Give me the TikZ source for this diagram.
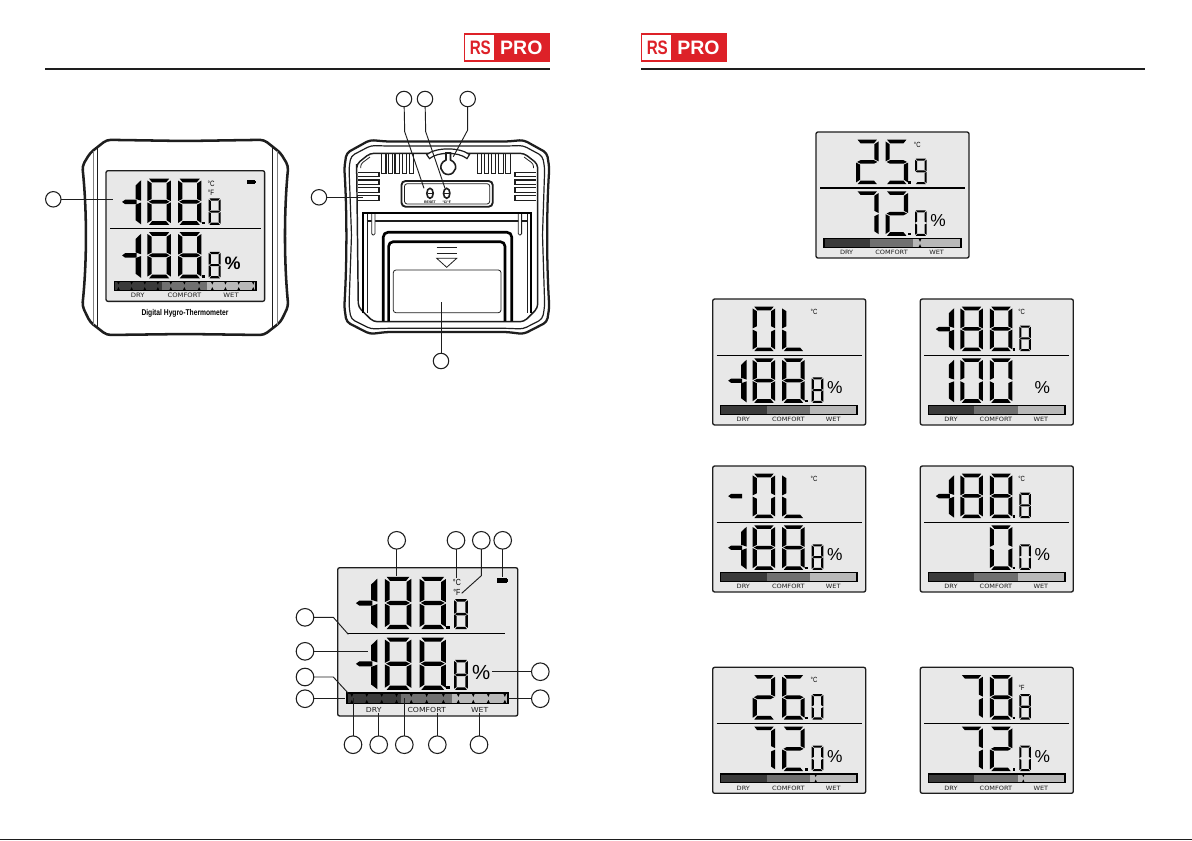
\documentclass[tikz,border=0pt]{standalone}
\usepackage{fontspec}
\setmainfont{Liberation Sans}
\newfontfamily\lcdfont{DejaVu Sans}
\usetikzlibrary{positioning}
\definecolor{rsred}{HTML}{DD2128}
\definecolor{lcdgrey}{HTML}{E8E8E8}
\definecolor{zonedry}{HTML}{3A3A3A}
\definecolor{zonecomfort}{HTML}{707070}
\definecolor{zonewet}{HTML}{B8B8B8}
\definecolor{ink}{HTML}{1E1E1E}

% segments of one digit, in a unit box
\newcommand{\lcdparta}{\fill[lcdink] (.07,0) -- (.93,0) -- (.8,.08) -- (.2,.08) -- cycle;}
\newcommand{\lcdpartb}{\fill[lcdink] (1,.04) -- (.82,.1) -- (.82,.44) -- (1,.485) -- cycle;}
\newcommand{\lcdpartc}{\fill[lcdink] (1,.515) -- (.82,.56) -- (.82,.9) -- (1,.96) -- cycle;}
\newcommand{\lcdpartd}{\fill[lcdink] (.07,1) -- (.93,1) -- (.8,.92) -- (.2,.92) -- cycle;}
\newcommand{\lcdparte}{\fill[lcdink] (0,.515) -- (.18,.56) -- (.18,.9) -- (0,.96) -- cycle;}
\newcommand{\lcdpartf}{\fill[lcdink] (0,.04) -- (.18,.1) -- (.18,.44) -- (0,.485) -- cycle;}
\newcommand{\lcdpartg}{\fill[lcdink] (.05,.5) -- (.2,.46) -- (.8,.46) -- (.95,.5) -- (.8,.54) -- (.2,.54) -- cycle;}
\newcommand{\lcdseg}[5]{\begin{scope}[shift={(#1,#2)},xscale=#3,yscale=#4]
    \foreach \s in {#5}{\csname lcdpart\s\endcsname}
  \end{scope}}
\newcommand{\lcdbig}[3]{\lcdseg{#1}{#2}{22.5}{44.5}{#3}}
\newcommand{\lcdsmall}[2]{\fill[lcdink] (92.3,#1+41.5) rectangle (95,#1+44);
  \lcdseg{99}{#1+19}{11.6}{25.5}{#2}}
\newcommand{\lcdminus}[1]{\fill[lcdink] (15.5,#1+22.4) -- (18.5,#1+20.2) -- (29.5,#1+20.2) -- (29.5,#1+24.6) -- (18.5,#1+24.6) -- cycle;}
\newcommand{\lcdone}[1]{\fill[lcdink] (33.8,#1+1.5) -- (28.5,#1+6.5) -- (28.5,#1+19.5) -- (33.8,#1+21.2) -- cycle;
  \fill[lcdink] (33.8,#1+23) -- (28.5,#1+25) -- (28.5,#1+40) -- (33.8,#1+44) -- cycle;}
\newcommand{\lcdallon}[1]{\lcdminus{#1}\lcdone{#1}\lcdbig{40}{#1}{a,b,c,d,e,f,g}\lcdbig{69.5}{#1}{a,b,c,d,e,f,g}\lcdsmall{#1}{a,b,c,d,e,f,g}}
% the bar with its three zones, and the ticks on it
\newcommand{\lcdbar}{\fill[lcdink] (7.3,106) rectangle (145.6,116);
  \fill[zonedry] (8.6,107.4) rectangle (54,114.6);
  \fill[zonecomfort] (54,107.4) rectangle (97.3,114.6);
  \fill[zonewet] (97.3,107.4) rectangle (143.6,114.6);
  \node[barword] (dry) at (30.6,120.6) {DRY};
  \node[barword] (comfort) at (75.6,120.6) {COMFORT};
  \node[barword] (wet) at (120.6,120.6) {WET};}
\newcommand{\lcdticks}[1]{\foreach \t in {#1}{\fill[lcdink] (\t-1.3,107) -- (\t+1.3,107) -- (\t,109.8) -- cycle;
    \fill[lcdink] (\t-1.3,115) -- (\t+1.3,115) -- (\t,112.2) -- cycle;}}
\newcommand{\lcdbox}[4]{\begin{scope}[shift={(#1,#2)},scale=#3,every node/.append style={transform shape}]
    \draw[lcdframe] (0,0) rectangle (153,126);
    #4
    \node[percent] (pc) at (122,89) {\%};
  \end{scope}}
\newcommand{\lcdsep}{\draw[sepline] (4,56) -- (149,56);}
\newcommand{\lcdcel}{\node[unitmark] (cel) at (101.3,12.7) {°C};}
\newcommand{\lcdfah}{\node[unitmark] (fah) at (101.3,21) {°F};}
\newcommand{\lcdbatt}{\fill[lcdink] (135.5,9) rectangle (143.5,13);\fill[lcdink] (143.5,10) rectangle (144.5,12);}
\newcommand{\rslogo}[2]{\fill[rsred] (#1,#2) rectangle ++(86,28.4);
  \fill[white] (#1+1.4,#2+1.6) rectangle ++(28.4,25);}

\begin{document}
\begin{tikzpicture}[x=0.75pt,y=-0.75pt]
  \tikzstyle{lcdink}=[fill=black]
  \tikzstyle{lcdframe}=[draw=ink, line width=1pt, fill=lcdgrey, rounded corners=1.5pt]
  \tikzstyle{sepline}=[draw=black, line width=0.7pt]
  \tikzstyle{barword}=[font=\lcdfont\fontsize{4.4}{5}\selectfont, xscale=1.12, inner sep=0pt, text=ink]
  \tikzstyle{percent}=[font=\fontsize{13}{13}\selectfont, inner sep=0pt, text=black]
  \tikzstyle{unitmark}=[font=\fontsize{5.6}{6}\selectfont, xscale=.8, inner sep=0pt, text=black]
  \tikzstyle{callout}=[circle, draw=ink, line width=0.8pt, fill=white, minimum size=11.6pt, inner sep=0pt, outer sep=0pt]
  \tikzstyle{calloutbig}=[circle, draw=ink, line width=0.8pt, fill=white, minimum size=13.2pt, inner sep=0pt, outer sep=0pt]
  \tikzstyle{leader}=[draw=ink, line width=0.7pt]
  \tikzstyle{rule}=[draw=ink, line width=1.5pt]
  \tikzstyle{body}=[draw=ink, line width=1.7pt, rounded corners=3pt]
  \tikzstyle{rim}=[draw=ink, line width=0.9pt, rounded corners=3pt]
  \tikzstyle{thin}=[draw=ink, line width=0.6pt, rounded corners=2pt]
  \tikzstyle{vent}=[draw=ink, line width=0.9pt]
  \tikzstyle{heavy}=[draw=black, line width=2pt, rounded corners=3.5pt]
  \tikzstyle{logoword}=[font=\bfseries\fontsize{14.6}{15}\selectfont, inner sep=0pt]
  \useasboundingbox (0,0) rectangle (1192,840);
  \fill[white] (0,0) rectangle (1192,840);

  % Headers
  \draw[rule] (45,69) -- (550,69);
  \draw[rule] (641,69) -- (1145,69);
  \fill[ink] (0,838.6) rectangle (1192,840);
  \rslogo{464}{33.3}
  \node[logoword, text=rsred, xscale=.78, transform shape] (rs1) at (480.3,47.6) {RS};
  \node[logoword, text=white] (pro1) at (521.3,47.6) {PRO};
  \rslogo{641}{33.3}
  \node[logoword, text=rsred, xscale=.78, transform shape] (rs2) at (657.3,47.6) {RS};
  \node[logoword, text=white] (pro2) at (698.5,47.6) {PRO};

  % Front of the unit
  \draw[body, line width=1.9pt] (185,141) -- (264,139.8) -- (280.6,153) -- (288.3,166)
    .. controls (284,210) and (284,262) .. (288.3,306) -- (280.6,322) -- (264,335) -- (185,334) -- (106.7,335) -- (90,322) -- (82.3,306)
    .. controls (87,262) and (87,210) .. (82.3,166) -- (90,153) -- (106.7,139.8) -- cycle;
  \draw[thin, draw=gray, line width=1pt] (93.3,151) -- (93.3,325);
  \draw[thin] (97.3,148) -- (97.3,328);
  \draw[thin] (272.3,148) -- (272.3,328);
  \draw[thin, draw=gray, line width=1pt] (277.3,151) -- (277.3,325);
  \node[font=\bfseries\fontsize{6.3}{7}\selectfont, xscale=.8, transform shape, inner sep=0pt] (brand) at (185,313.3) {Digital Hygro-Thermometer};
  \lcdbox{106}{170.7}{1.037}{\tikzset{percent/.append style={font=\bfseries\fontsize{13}{13}\selectfont}}\lcdsep\lcdcel\lcdfah\lcdbatt\lcdallon{7.7}\lcdallon{59.3}\lcdbar\lcdticks{12,24.7,37.4,50,62.5,75.6,89.8,102.5,115.2,128,142}}

  % Back of the unit
  \draw[body] (447,141.5) -- (507,141.5) -- (523.6,140) -- (547,153) -- (549.3,168)
    .. controls (546.5,210) and (546.5,262) .. (549.3,307) -- (547,322) -- (523.6,334) -- (507,332) -- (386.7,332) -- (370,334) -- (346.5,322) -- (344.3,307)
    .. controls (347,262) and (347,210) .. (344.3,168) -- (346.5,153) -- (370,140) -- (386.7,141.5) -- cycle;
  \draw[rim] (447,146) -- (507,146) -- (523,145.5) -- (542.5,156) -- (544.7,168)
    -- (542.5,235) -- (544.7,306) -- (542.5,319) -- (523,329) -- (507,328.3) -- (386.7,328.3) -- (371,329) -- (351,319) -- (349,306) -- (351.5,235) -- (349,168) -- (351,156) -- (371,145.5) -- (386.7,146) -- cycle;
  \draw[rim, line width=1.1pt] (447,153.3) -- (524,153.3) -- (537.7,164) -- (537.7,308) -- (524,321.7) -- (373.3,321.7) -- (358.3,307) -- (356.7,168) -- (356.7,164) -- (370,153.3) -- cycle;
  \draw[thin] (360.7,168) -- (360.7,164) -- (370,157);
  \draw[thin] (533.5,168) -- (533.5,164) -- (524,157);
  % Vents
  \foreach \x in {381.7,388.5,395,402.3,409.3}{\draw[vent] (\x,153.3) -- (\x,173.3) -- (\x+4.3,173.3) -- (\x+4.3,153.3);}
  \foreach \x in {477.3,484.5,491.5,498.8,505.8}{\draw[vent] (\x,153.3) -- (\x,173.3) -- (\x+4.3,173.3) -- (\x+4.3,153.3);}
  \foreach \y in {172.3,180,187.7,195.7}{\draw[vent] (358,\y) -- (379,\y) -- (379,\y+4.4) -- (358,\y+4.4);\draw[vent] (535.7,\y) -- (515,\y) -- (515,\y+4.4) -- (535.7,\y+4.4);}
  % Keyhole
  \draw[vent, fill=white] (426.7,154.6) .. controls (436,147) and (460,147) .. (469.5,154.6) -- (467,158.6) .. controls (458,151.5) and (438,151.5) .. (429.5,158.6) -- cycle;
  \draw[vent, line width=1.2pt, fill=white] (446,153) -- (446,160) .. controls (437,164) and (441,174.5) .. (448.2,174.5) .. controls (455.5,174.5) and (459.5,164) .. (450.5,160) -- (450.5,153) -- cycle;
  % Button panel
  \draw[rim, line width=1.4pt] (401.5,181) rectangle (492.7,206.7);
  \draw[thin] (404.5,183.7) rectangle (489.7,204);
  \draw[vent, line width=1.2pt, fill=white] (430,193.3) ellipse [x radius=3.2, y radius=5];
  \draw[vent, line width=1.2pt, fill=white] (446.7,193.3) ellipse [x radius=3.2, y radius=5];
  \draw[vent, line width=.6pt] (427.5,193.3) -- (432.5,193.3);
  \draw[vent, line width=.6pt] (444.2,193.3) -- (449.2,193.3);
  \node[font=\bfseries\fontsize{2.6}{3}\selectfont, inner sep=0pt] (reset) at (430,202) {RESET};
  \node[font=\bfseries\fontsize{2.6}{3}\selectfont, inner sep=0pt] (unit) at (446.7,202) {°C/°F};
  % Stand
  \draw[heavy, line width=1.7pt, rounded corners=0pt] (363.3,313) -- (363.3,213.3) -- (531,213.3) -- (531,313);
  \draw[thin, rounded corners=0pt, line width=1pt] (366.5,221) -- (527.5,221);
  \draw[thin, rounded corners=0pt] (367,214) -- (367,313);
  \draw[thin, rounded corners=0pt] (527.3,214) -- (527.3,313);
  \draw[thin, rounded corners=1pt, fill=white] (371.7,214) -- (371.7,235) -- (375,235) -- (375,214);
  \draw[thin, rounded corners=1pt, fill=white] (518.3,214) -- (518.3,235) -- (521.6,235) -- (521.6,214);
  % Battery door
  \draw[heavy] (383.3,321) -- (383.3,232.3) -- (511.7,232.3) -- (511.7,321);
  \draw[heavy] (388.6,321) -- (388.6,241.7) -- (505,241.7) -- (505,321);
  \draw[thin] (393.3,270) rectangle (501,312.7);
  \draw[thin, rounded corners=0pt] (436.7,247.3) -- (456.7,247.3);
  \draw[thin, rounded corners=0pt] (436.7,253.3) -- (456.7,253.3);
  \draw[thin, rounded corners=0pt, fill=white] (436.7,258.3) -- (456.7,258.3) -- (446.7,267.3) -- cycle;

  % Detail of the display
  \lcdbox{337.7}{567.7}{1.177}{\draw[sepline] (7.6,56) -- (142,56);\lcdcel\lcdfah\lcdbatt\lcdallon{7.7}\lcdallon{59.3}\lcdbar\lcdticks{12,24.7,37.4,50,62.5,75.6,89.8,102.5,115.2,128,142}}

  % Readings, right page
  \lcdbox{816}{132}{1}{\draw[sepline, line width=1pt] (4,56) -- (149,56);\lcdcel
    \lcdbig{40}{7.7}{a,b,d,e,g}\lcdbig{69.5}{7.7}{a,c,d,f,g}\lcdsmall{7.7}{a,b,c,d,f,g}
    \lcdbig{40}{59.3}{a,b,c}\lcdbig{69.5}{59.3}{a,b,d,e,g}\lcdsmall{59.3}{a,b,c,d,e,f}\lcdbar\lcdticks{104}}
  \lcdbox{712.7}{299}{1}{\lcdsep\lcdcel
    \lcdbig{40}{7.7}{a,b,c,d,e,f}\lcdbig{69.5}{7.7}{d,e,f}
    \lcdallon{59.3}\lcdbar}
  \lcdbox{920.3}{299}{1}{\lcdsep\lcdcel
    \lcdallon{7.7}
    \lcdone{59.3}\lcdbig{40}{59.3}{a,b,c,d,e,f}\lcdbig{69.5}{59.3}{a,b,c,d,e,f}\lcdbar}
  \lcdbox{712.7}{466}{1}{\lcdsep\lcdcel
    \lcdminus{7.7}\lcdbig{40}{7.7}{a,b,c,d,e,f}\lcdbig{69.5}{7.7}{d,e,f}
    \lcdallon{59.3}\lcdbar}
  \lcdbox{920.3}{466}{1}{\lcdsep\lcdcel
    \lcdallon{7.7}
    \lcdbig{69.5}{59.3}{a,b,c,d,e,f}\lcdsmall{59.3}{a,b,c,d,e,f}\lcdbar}
  \lcdbox{712.7}{667.3}{1}{\lcdsep\lcdcel
    \lcdbig{40}{7.7}{a,b,d,e,g}\lcdbig{69.5}{7.7}{a,c,d,e,f,g}\lcdsmall{7.7}{a,b,c,d,e,f}
    \lcdbig{40}{59.3}{a,b,c}\lcdbig{69.5}{59.3}{a,b,d,e,g}\lcdsmall{59.3}{a,b,c,d,e,f}\lcdbar\lcdticks{103}}
  \lcdbox{920.3}{667.3}{1}{\lcdsep\lcdfah
    \lcdbig{40}{7.7}{a,b,c}\lcdbig{69.5}{7.7}{a,b,c,d,e,f,g}\lcdsmall{7.7}{a,b,c,d,e,f,g}
    \lcdbig{40}{59.3}{a,b,c}\lcdbig{69.5}{59.3}{a,b,d,e,g}\lcdsmall{59.3}{a,b,c,d,e,f}\lcdbar\lcdticks{103}}

  % Callouts, front and back
  \node[callout] (f1) at (53.3,199.3) {};
  \node[callout] (b1) at (404,99) {};
  \node[callout] (b2) at (425,99) {};
  \node[callout] (b3) at (467.7,99) {};
  \node[callout] (b4) at (319,197.3) {};
  \node[callout] (b5) at (441,361) {};
  \coordinate (f1e) at (112.7,199.3);
  \coordinate (b1k) at (404.7,131.7);
  \coordinate (b1e) at (424,188.3);
  \coordinate (b2k) at (425.7,131.7);
  \coordinate (b2e) at (445,188.3);
  \coordinate (b3k) at (467.7,130);
  \coordinate (b3e) at (453.3,156.7);
  \coordinate (b4e) at (363.3,197.3);
  \coordinate (b5e) at (441,301.7);
  \draw[leader] (f1) -- (f1e);
  \draw[leader] (b1) -- (b1k) -- (b1e);
  \draw[leader] (b2) -- (b2k) -- (b2e);
  \draw[leader] (b3) -- (b3k) -- (b3e);
  \draw[leader] (b4) -- (b4e);
  \draw[leader] (b5) -- (b5e);

  % Callouts, display
  \node[calloutbig] (d1) at (396.7,540.3) {};
  \node[calloutbig] (d2) at (456,540.3) {};
  \node[calloutbig] (d3) at (481.3,540.3) {};
  \node[calloutbig] (d4) at (502.7,540.3) {};
  \node[calloutbig] (d5) at (305,617.3) {};
  \node[calloutbig] (d6) at (305,651.3) {};
  \node[calloutbig] (d7) at (305,677) {};
  \node[calloutbig] (d8) at (305,698.7) {};
  \node[calloutbig] (d9) at (540.3,671.7) {};
  \node[calloutbig] (d10) at (540.3,698.7) {};
  \node[calloutbig] (d11) at (353,744.7) {};
  \node[calloutbig] (d12) at (378.7,744.7) {};
  \node[calloutbig] (d13) at (404.3,744.7) {};
  \node[calloutbig] (d14) at (437.3,744.7) {};
  \node[calloutbig] (d15) at (479,744.7) {};
  \coordinate (d1e) at (396.7,575.7);
  \coordinate (d2e) at (456,578.3);
  \coordinate (d3k) at (481.3,575.7);
  \coordinate (d3e) at (461.7,593.3);
  \coordinate (d4e) at (502.7,576.7);
  \coordinate (d5k) at (333.3,617.3);
  \coordinate (d5e) at (348.3,634.3);
  \coordinate (d6e) at (368.3,651.3);
  \coordinate (d7k) at (333.3,677);
  \coordinate (d7e) at (348.3,693.3);
  \coordinate (d8e) at (345,698.7);
  \coordinate (d9e) at (491.7,671.7);
  \coordinate (d10e) at (508.3,698.7);
  \coordinate (d11e) at (353,698.3);
  \coordinate (d12e) at (378.7,713.3);
  \coordinate (d13e) at (404.3,698.3);
  \coordinate (d14e) at (437.3,713.3);
  \coordinate (d15e) at (479,713.3);
  \draw[leader] (d1) -- (d1e);
  \draw[leader] (d2) -- (d2e);
  \draw[leader] (d3) -- (d3k) -- (d3e);
  \draw[leader] (d4) -- (d4e);
  \draw[leader] (d5) -- (d5k) -- (d5e);
  \draw[leader] (d6) -- (d6e);
  \draw[leader] (d7) -- (d7k) -- (d7e);
  \draw[leader] (d8) -- (d8e);
  \draw[leader] (d9) -- (d9e);
  \draw[leader] (d10) -- (d10e);
  \draw[leader] (d11) -- (d11e);
  \draw[leader] (d12) -- (d12e);
  \draw[leader] (d13) -- (d13e);
  \draw[leader] (d14) -- (d14e);
  \draw[leader] (d15) -- (d15e);
\end{tikzpicture}
\end{document}
